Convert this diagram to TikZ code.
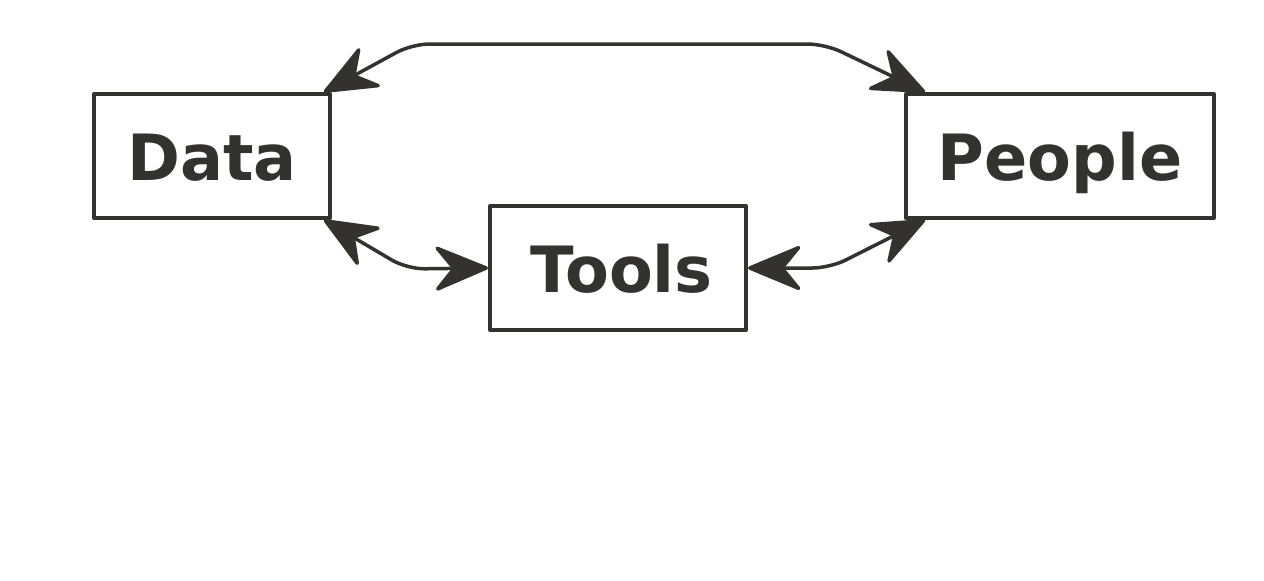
\documentclass[tikz,border=0pt]{standalone}
\usepackage{fontspec}
\setmainfont{DejaVu Sans}
\usepackage{xcolor}
\usetikzlibrary{arrows.meta}
\definecolor{ink}{HTML}{33322E}

\begin{document}
\begin{tikzpicture}[line join=round,
    box/.style={draw=ink,line width=.08cm,inner sep=0pt,minimum height=2.48cm,
      text=ink,font=\fontsize{36.3}{44}\selectfont\bfseries,text height=.96cm,text depth=0pt},
    link/.style={draw=ink,line width=.07cm,rounded corners=.35cm,
      {Stealth[length=1.18cm,width=.98cm,inset=.4cm,round]}-{Stealth[length=1.18cm,width=.98cm,inset=.4cm,round]}}]
      \useasboundingbox (0,0) rectangle (25.28,-11.6);
      \node[box,minimum width=4.72cm] (data) at (4.24,-3.12) {Data};
      \node[box,minimum width=6.16cm] (people) at (21.2,-3.12) {People};
      \node[box,minimum width=5.12cm] (tools) at (12.36,-5.36) {\hspace{.14cm}Tools};
      % connectors
      \draw[link] ([xshift=-.16cm]data.north east) -- ++(1.76,.96) -- ++(8.26,0)
        -- ([xshift=.42cm]people.north west);
      \draw[link] ([xshift=-.16cm]data.south east) -- ++(1.66,-.98) -- (tools.west);
      \draw[link] (tools.east) -- ++(1.64,0) -- ([xshift=.42cm]people.south west);
    \end{tikzpicture}
\end{document}
